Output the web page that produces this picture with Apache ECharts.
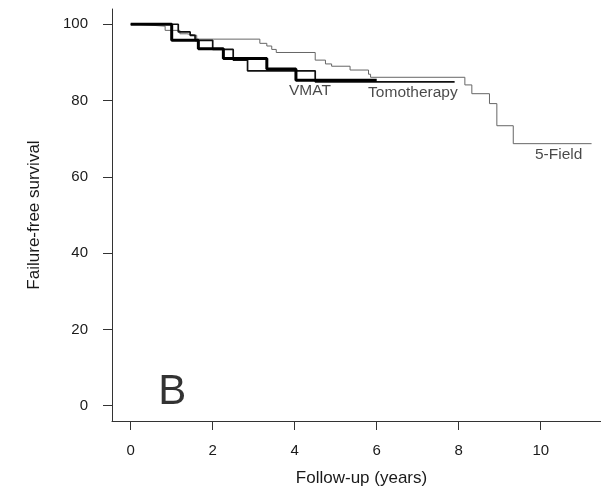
<!DOCTYPE html>
<html>
<head>
<meta charset="utf-8">
<script src="https://cdn.jsdelivr.net/npm/echarts@6/dist/echarts.min.js"></script>
<style>
  html, body { margin: 0; padding: 0; background: #fff; }
  #chart { width: 601px; height: 492px; }
</style>
</head>
<body>
<div id="chart"></div>
<script>
// step points [years, failure-free survival %]
const fiveField = [
  [0, 100], [0.15, 99.5], [0.84, 98.4], [1.2, 97.5], [1.37, 97.1], [1.61, 96.1],
  [3.15, 95.0], [3.32, 94.3], [3.44, 93.4], [3.55, 92.6], [4.5, 90.6], [4.75, 89.6],
  [4.9, 89.0], [5.35, 88.0], [5.8, 86.9], [5.85, 86.1], [8.15, 84.1], [8.32, 81.8],
  [8.75, 79.2], [8.93, 73.4], [9.33, 68.7], [11.24, 68.7]
];
const tomotherapy = [
  [0, 100], [1.16, 98.0], [1.45, 97.1], [1.57, 95.8], [2.0, 93.4], [2.5, 90.6],
  [2.85, 87.8], [4.5, 84.9], [7.9, 84.9]
];
const vmat = [
  [0, 100], [1.0, 95.8], [1.65, 93.6], [2.26, 91.0], [3.32, 88.3], [4.03, 85.3],
  [6.0, 85.3]
];

const xTicks = [0, 2, 4, 6, 8, 10];
const yTicks = [0, 20, 40, 60, 80, 100];

// curve labels: [x, y, text]
const curveLabels = [
  [3.86, 82.5, 'VMAT'],
  [5.79, 82.0, 'Tomotherapy'],
  [9.86, 65.8, '5-Field']
];
const panelLetter = [[0.67, 3.6, 'B']];

var myChart = echarts.init(document.getElementById('chart'));
const font = '"Liberation Sans", Arial, sans-serif';
const axisColor = '#333';
const textColor = '#1a1a1a';

var option = {
  animation: false,
  backgroundColor: '#fff',
  grid: { left: 112, right: 0, top: 9, bottom: 70 },
  xAxis: {
    type: 'value',
    min: -0.456,
    max: 11.47,
    name: 'Follow-up (years)',
    nameLocation: 'middle',
    nameGap: 49,
    // original plot region is cropped on the right, so its title sits a bit right of centre
    nameTextStyle: { fontFamily: font, fontSize: 17, color: textColor, padding: [0, 0, 0, 10] },
    axisLine: { show: true, onZero: false, lineStyle: { color: axisColor, width: 1 } },
    axisTick: { show: true, customValues: xTicks, length: 9, lineStyle: { color: axisColor } },
    axisLabel: { customValues: xTicks, margin: 22, fontFamily: font, fontSize: 15, color: textColor },
    splitLine: { show: false }
  },
  yAxis: {
    type: 'value',
    min: -4,
    max: 104,
    name: 'Failure-free survival',
    nameLocation: 'middle',
    nameGap: 69,
    nameTextStyle: { fontFamily: font, fontSize: 17, color: textColor },
    axisLine: { show: true, onZero: false, lineStyle: { color: axisColor, width: 1 } },
    axisTick: { show: true, customValues: yTicks, length: 9, lineStyle: { color: axisColor } },
    axisLabel: { customValues: yTicks, margin: 24, fontFamily: font, fontSize: 15, color: textColor },
    splitLine: { show: false }
  },
  series: [
    {
      name: '5-Field', type: 'line', step: 'end', data: fiveField,
      symbol: 'none', lineStyle: { color: '#666', width: 1 }
    },
    {
      name: 'Tomotherapy', type: 'line', step: 'end', data: tomotherapy,
      symbol: 'none', lineStyle: { color: '#111', width: 1.7 }
    },
    {
      name: 'VMAT', type: 'line', step: 'end', data: vmat,
      symbol: 'none', lineStyle: { color: '#000', width: 3 }
    },
    {
      type: 'scatter', symbolSize: 0, silent: true,
      data: curveLabels.map(d => ({ value: [d[0], d[1]], name: d[2] })),
      label: {
        show: true, position: 'right', distance: 0, formatter: '{b}',
        fontFamily: font, fontSize: 15.5, color: textColor
      }
    },
    {
      type: 'scatter', symbolSize: 0, silent: true,
      data: panelLetter.map(d => ({ value: [d[0], d[1]], name: d[2] })),
      label: {
        show: true, position: 'right', distance: 0, formatter: '{b}',
        fontFamily: font, fontSize: 42, color: '#000'
      }
    }
  ]
};

myChart.setOption(option);
</script>
</body>
</html>
